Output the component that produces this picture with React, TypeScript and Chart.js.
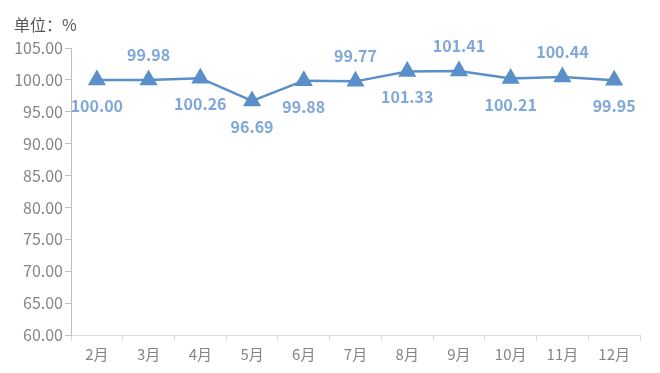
import React, { useEffect, useRef } from "react";
import { Chart, registerables } from "chart.js";

Chart.register(...registerables);

const categories = ["2月", "3月", "4月", "5月", "6月", "7月", "8月", "9月", "10月", "11月", "12月"];
const values = [100.0, 99.98, 100.26, 96.69, 99.88, 99.77, 101.33, 101.41, 100.21, 100.44, 99.95];
const labelSide = ["below", "above", "below", "below", "below", "above", "below", "above", "below", "above", "below"];
const unitLabel = "单位：%";
const yMin = 60;
const yMax = 105;
const yStep = 5;

const FONT = '"Noto Sans CJK SC", "Noto Sans", sans-serif';
const LINE = "#5b8fc9";
const LABEL = "#7fa8d8";

const valueLabels = {
  id: "valueLabels",
  afterDatasetsDraw(chart: any) {
    const ctx = chart.ctx;
    const meta = chart.getDatasetMeta(0);
    ctx.save();
    ctx.font = `bold 16px ${FONT}`;
    ctx.fillStyle = LABEL;
    ctx.textAlign = "center";
    ctx.textBaseline = "middle";
    meta.data.forEach((pt: any, i: number) => {
      const dy = labelSide[i] === "above" ? -25 : 26;
      ctx.fillText(values[i].toFixed(2), pt.x, pt.y + dy);
    });
    ctx.restore();
  },
};

const unitTitle = {
  id: "unitTitle",
  afterDraw(chart: any) {
    const ctx = chart.ctx;
    ctx.save();
    ctx.font = `16px ${FONT}`;
    ctx.fillStyle = "#555555";
    ctx.textAlign = "left";
    ctx.textBaseline = "middle";
    ctx.fillText(unitLabel, 14, 25);
    ctx.restore();
  },
};

export default function App() {
  const ref = useRef<HTMLCanvasElement>(null);
  useEffect(() => {
    if (!ref.current) return;
    const chart = new Chart(ref.current, {
      type: "line",
      data: {
        labels: categories,
        datasets: [
          {
            data: values,
            borderColor: LINE,
            backgroundColor: LINE,
            borderWidth: 2.5,
            pointStyle: "triangle",
            pointRadius: 8,
            pointHoverRadius: 8,
            pointBackgroundColor: LINE,
            pointBorderColor: LINE,
            tension: 0,
          },
        ],
      },
      options: {
        animation: false,
        responsive: false,
        devicePixelRatio: 1,
        layout: { padding: { top: 48, left: 12, right: 20, bottom: 0 } },
        plugins: { legend: { display: false }, tooltip: { enabled: false }, title: { display: false } },
        scales: {
          x: {
            offset: true,
            grid: { display: true, offset: true, drawOnChartArea: false, drawTicks: true, tickLength: 6, color: "#d9d9d9" },
            border: { color: "#d9d9d9" },
            ticks: { color: "#858585", font: { family: FONT, size: 15 }, padding: 4, maxRotation: 0, autoSkip: false },
            afterFit: (s: any) => {
              s.height = 38;
            },
          },
          y: {
            min: yMin,
            max: yMax,
            grid: { display: true, drawOnChartArea: false, drawTicks: true, tickLength: 6, color: "#bfbfbf" },
            border: { color: "#bfbfbf" },
            ticks: {
              stepSize: yStep,
              color: "#858585",
              font: { family: FONT, size: 16 },
              padding: 2,
              callback: (v: any) => Number(v).toFixed(2),
            },
            afterFit: (s: any) => {
              s.width = 59;
            },
          },
        },
      },
      plugins: [valueLabels, unitTitle],
    });
    return () => chart.destroy();
  }, []);
  return (
    <div style={{ position: "fixed", left: 0, top: 0, width: 660, height: 373, background: "#fff" }}>
      <canvas ref={ref} width={660} height={373} style={{ width: 660, height: 373 }} />
    </div>
  );
}
